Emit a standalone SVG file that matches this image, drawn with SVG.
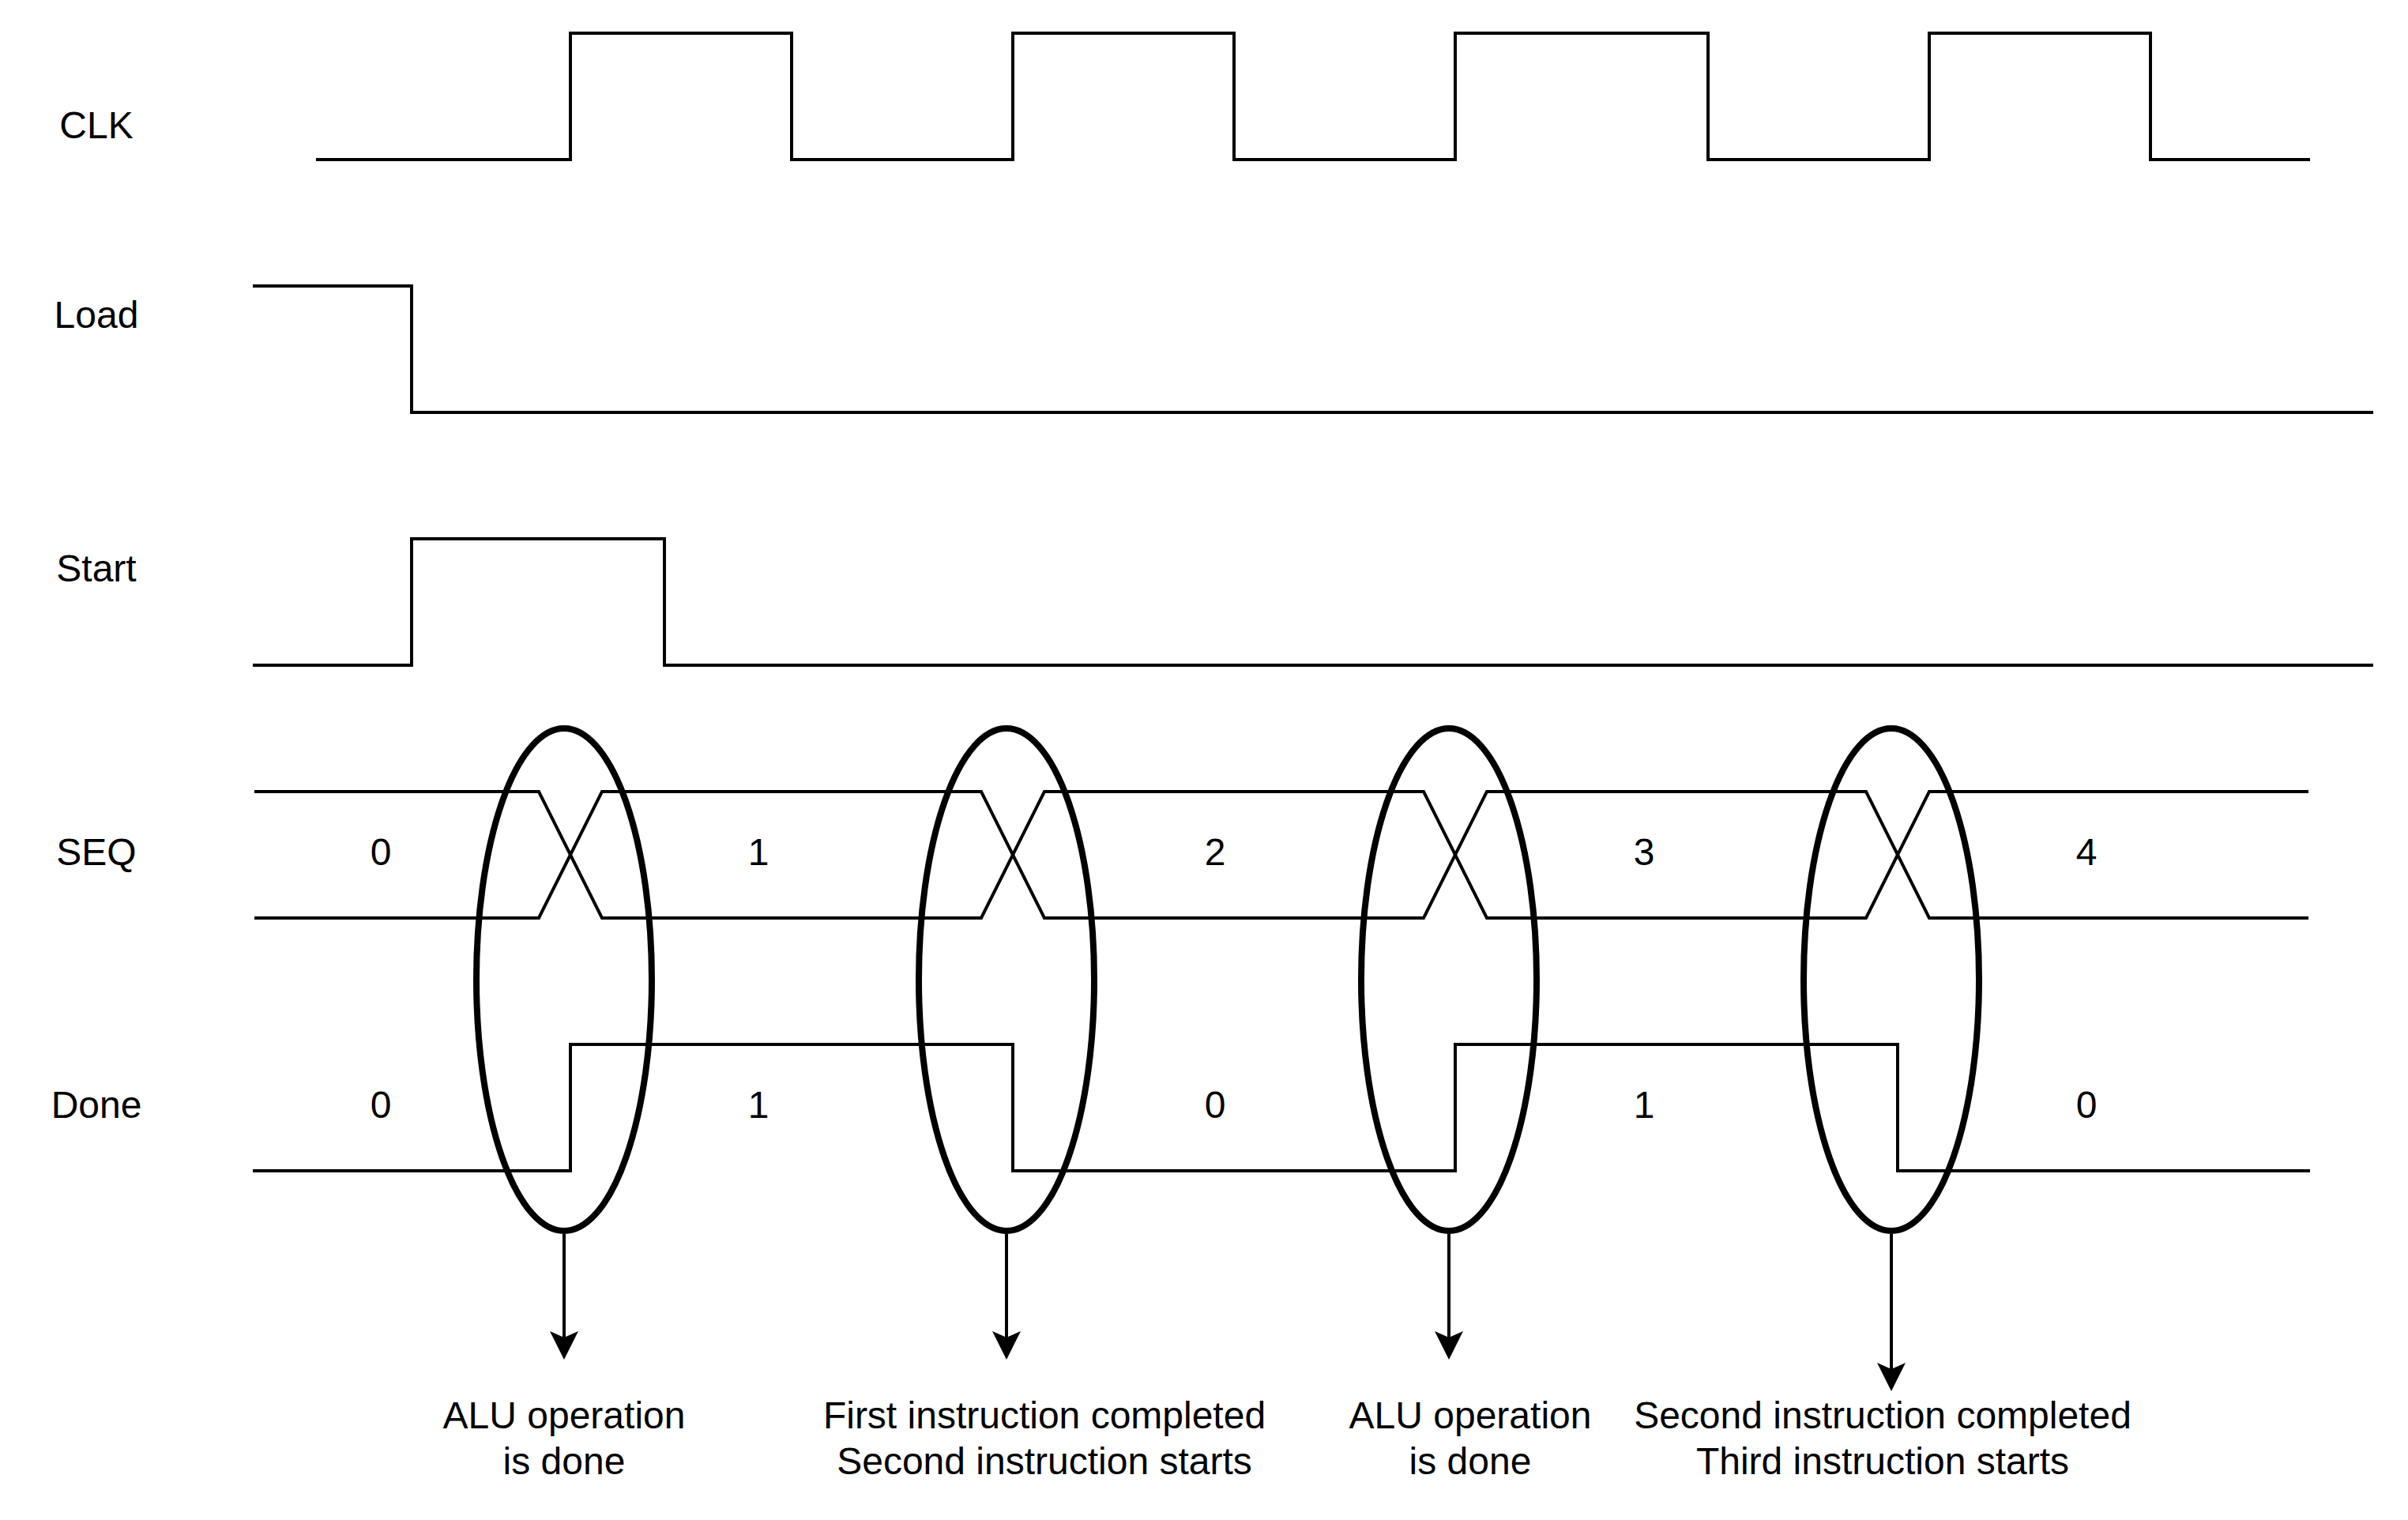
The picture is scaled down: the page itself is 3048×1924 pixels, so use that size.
<svg xmlns="http://www.w3.org/2000/svg" width="3048" height="1924" viewBox="0 0 3048 1924">
  <defs>
    <style>
      .sig { fill: none; stroke: #000; stroke-width: 4; stroke-linejoin: miter; stroke-linecap: square; }
      .xing { fill: none; stroke: #000; stroke-width: 4; stroke-linejoin: miter; }
      .ring { fill: none; stroke: #000; stroke-width: 8; }
      .conn { fill: none; stroke: #000; stroke-width: 4; }
      .lbl { font-family: "Liberation Sans", Arial, Helvetica, sans-serif; font-size: 48px; fill: #000; text-anchor: middle; }
    </style>
    <marker id="arrow" markerUnits="userSpaceOnUse" markerWidth="40" markerHeight="40" viewBox="0 -20 40 40" refX="8" refY="0" orient="auto">
      <path d="M0,-18 L36,0 L0,18 L8,0 Z" fill="#000"/>
    </marker>
  </defs>
  <rect width="3048" height="1924" fill="#fff"/>

  <g id="clk">
    <text class="lbl" x="122" y="175">CLK</text>
    <path class="sig" d="M402,202 H722 V42 H1002 V202 H1282 V42 H1562 V202 H1842 V42 H2162 V202 H2442 V42 H2722 V202 H2922"/>
  </g>

  <g id="load">
    <text class="lbl" x="122" y="415">Load</text>
    <path class="sig" d="M322,362 H521 V522 H3002"/>
  </g>

  <g id="start">
    <text class="lbl" x="122" y="736">Start</text>
    <path class="sig" d="M322,842 H521 V682 H841 V842 H3002"/>
  </g>

  <g id="seq">
    <text class="lbl" x="122" y="1095">SEQ</text>
    <path class="xing" d="M322,1002 H682 L762,1162 H1242 L1322,1002 H1802 L1882,1162 H2362 L2442,1002 H2922"/>
    <path class="xing" d="M322,1162 H682 L762,1002 H1242 L1322,1162 H1802 L1882,1002 H2362 L2442,1162 H2922"/>
    <text class="lbl" x="482" y="1095">0</text>
    <text class="lbl" x="960" y="1095">1</text>
    <text class="lbl" x="1538" y="1095">2</text>
    <text class="lbl" x="2081" y="1095">3</text>
    <text class="lbl" x="2641" y="1095">4</text>
  </g>

  <g id="done">
    <text class="lbl" x="122" y="1415">Done</text>
    <path class="sig" d="M322,1482 H722 V1322 H1282 V1482 H1842 V1322 H2402 V1482 H2922"/>
    <text class="lbl" x="482" y="1415">0</text>
    <text class="lbl" x="960" y="1415">1</text>
    <text class="lbl" x="1538" y="1415">0</text>
    <text class="lbl" x="2081" y="1415">1</text>
    <text class="lbl" x="2641" y="1415">0</text>
  </g>

  <g id="ellipse1"><ellipse class="ring" cx="714" cy="1240" rx="111" ry="318"/></g>
  <g id="ellipse2"><ellipse class="ring" cx="1274" cy="1240" rx="111" ry="318"/></g>
  <g id="ellipse3"><ellipse class="ring" cx="1834" cy="1240" rx="111" ry="318"/></g>
  <g id="ellipse4"><ellipse class="ring" cx="2394" cy="1240" rx="111" ry="318"/></g>

  <g id="connectors">
    <line class="conn" x1="714" y1="1562" x2="714" y2="1693" marker-end="url(#arrow)"/>
    <line class="conn" x1="1274" y1="1562" x2="1274" y2="1693" marker-end="url(#arrow)"/>
    <line class="conn" x1="1834" y1="1562" x2="1834" y2="1693" marker-end="url(#arrow)"/>
    <line class="conn" x1="2394" y1="1562" x2="2394" y2="1733" marker-end="url(#arrow)"/>
  </g>

  <g id="note1">
    <text class="lbl" x="714" y="1808">ALU operation</text>
    <text class="lbl" x="714" y="1866">is done</text>
  </g>
  <g id="note2">
    <text class="lbl" x="1322" y="1808">First instruction completed</text>
    <text class="lbl" x="1322" y="1866">Second instruction starts</text>
  </g>
  <g id="note3">
    <text class="lbl" x="1861" y="1808">ALU operation</text>
    <text class="lbl" x="1861" y="1866">is done</text>
  </g>
  <g id="note4">
    <text class="lbl" x="2383" y="1808">Second instruction completed</text>
    <text class="lbl" x="2383" y="1866">Third instruction starts</text>
  </g>
</svg>
